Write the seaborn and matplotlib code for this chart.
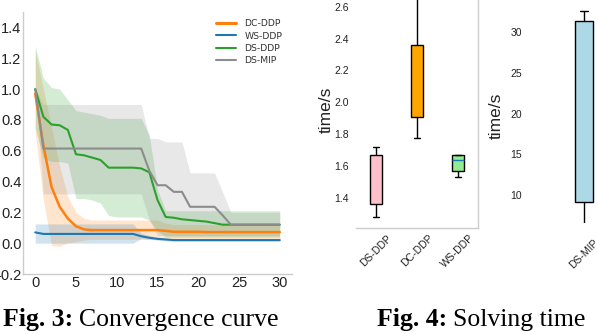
import numpy as np
import pandas as pd
import matplotlib
matplotlib.use("Agg")
import matplotlib.pyplot as plt
import seaborn as sns

# ---------------- data ----------------
iters = list(range(31))

dc_mean = [0.97, 0.635, 0.365, 0.236, 0.16, 0.11, 0.089, 0.085, 0.085, 0.085, 0.085,
           0.085, 0.085, 0.085, 0.085, 0.085, 0.08, 0.074, 0.074, 0.074, 0.074,
           0.072, 0.072, 0.072, 0.072, 0.072, 0.072, 0.072, 0.072, 0.072, 0.072]
dc_lo = [0.72, 0.28, -0.015, -0.02, 0.0, 0.01, 0.02, 0.025, 0.025, 0.025, 0.025,
         0.025, 0.025, 0.025, 0.025, 0.03, 0.03, 0.03, 0.03, 0.03, 0.03,
         0.03, 0.03, 0.03, 0.03, 0.03, 0.03, 0.03, 0.03, 0.03, 0.03]
dc_hi = [1.25, 1.0, 0.75, 0.5, 0.3, 0.2, 0.16, 0.15, 0.15, 0.15, 0.15,
         0.15, 0.15, 0.15, 0.15, 0.15, 0.13, 0.12, 0.12, 0.12, 0.12,
         0.12, 0.12, 0.12, 0.12, 0.12, 0.12, 0.12, 0.12, 0.12, 0.12]

ws_mean = [0.07] + [0.06] * 12 + [0.045, 0.035, 0.028, 0.024] + [0.02] * 14
ws_lo = [0.0] * 13 + [0.03, 0.025, 0.02, 0.015] + [0.012] * 14
ws_hi = [0.125] * 13 + [0.065, 0.05, 0.038, 0.032] + [0.028] * 14

ds_mean = [1.0, 0.82, 0.77, 0.765, 0.735, 0.577, 0.57, 0.555, 0.54, 0.49, 0.49,
           0.49, 0.49, 0.485, 0.46, 0.28, 0.17, 0.165, 0.155, 0.15, 0.145,
           0.14, 0.13] + [0.12] * 8
ds_lo = [0.75, 0.55, 0.53, 0.53, 0.52, 0.29, 0.29, 0.28, 0.26, 0.18, 0.17,
         0.17, 0.17, 0.17, 0.15, 0.08] + [0.04] * 15
ds_hi = [1.28, 1.07, 1.01, 1.0, 0.93, 0.86, 0.85, 0.84, 0.83, 0.81, 0.81,
         0.81, 0.81, 0.81, 0.7, 0.35] + [0.21] * 15

mip_mean = [1.0] + [0.614] * 13 + [0.47, 0.376, 0.376, 0.333, 0.333, 0.236,
                                   0.236, 0.236, 0.236, 0.18] + [0.12] * 7
mip_lo = [1.0] + [0.32] * 13 + [0.15] + [0.05] * 16
mip_hi = [1.0] + [0.9] * 13 + [0.68, 0.68, 0.657, 0.657, 0.657, 0.456,
                               0.456, 0.456, 0.456, 0.33] + [0.2] * 7

# box plot values: [whisker low, q1, median, q3, whisker high]
box_methods = ["DS-DDP", "DC-DDP", "WS-DDP"]
ds_ddp_time = [1.281, 1.36, 1.52, 1.671, 1.723]
dc_ddp_time = [1.776, 1.911, 2.13, 2.36, 2.72]
ws_ddp_time = [1.531, 1.567, 1.638, 1.671, 1.671]
mip_method = ["DS-MIP"]
ds_mip_time = [5.5, 9.18, 20.0, 31.4, 32.64]

y1_ticks = [-0.2, 0.0, 0.2, 0.4, 0.6, 0.8, 1.0, 1.2, 1.4]
x1_ticks = [0, 5, 10, 15, 20, 25, 30]
y2_ticks = [1.4, 1.6, 1.8, 2.0, 2.2, 2.4, 2.6]
y3_ticks = [10, 15, 20, 25, 30]

# ---------------- style ----------------
sns.set_theme(style="white")
plt.rcParams["font.family"] = ["Liberation Sans", "DejaVu Sans"]

W, H = 598, 334
fig = plt.figure(figsize=(W / 100, H / 100), dpi=100)


def px_axes(l, t, r, b):
    return fig.add_axes([l / W, 1 - b / H, (r - l) / W, (b - t) / H])


# ---------------- Fig 3: convergence ----------------
ax1 = px_axes(23, 12, 292, 274)
series = [
    ("DC-DDP", dc_mean, dc_lo, dc_hi, "#ff7f0e", 1.8),
    ("WS-DDP", ws_mean, ws_lo, ws_hi, "#1f77b4", 1.5),
    ("DS-DDP", ds_mean, ds_lo, ds_hi, "#2ca02c", 1.5),
    ("DS-MIP", mip_mean, mip_lo, mip_hi, "#8c8c8c", 1.5),
]
for name, m, lo, hi, c, lw in series:
    ax1.fill_between(iters, lo, hi, color=c, alpha=0.2, lw=0)
for name, m, lo, hi, c, lw in series:
    sns.lineplot(x=iters, y=m, ax=ax1, color=c, lw=lw, label=name)

ax1.set_xlim(-1.5, 31.5)
ax1.set_ylim(-0.2, 1.5)
ax1.set_xticks(x1_ticks)
ax1.set_yticks(y1_ticks)
ax1.set_yticklabels([f"{v:.1f}" for v in y1_ticks])
ax1.tick_params(axis="both", labelsize=10.5, length=0, colors="#222222")
ax1.tick_params(axis="y", pad=1)
ax1.tick_params(axis="x", pad=1.5)
for s in ["top", "right"]:
    ax1.spines[s].set_visible(False)
for s in ["left", "bottom"]:
    ax1.spines[s].set_color("#cccccc")
    ax1.spines[s].set_linewidth(1)
leg = ax1.legend(loc="upper left", bbox_to_anchor=(0.717, 0.972), frameon=False,
                 fontsize=6.7, handlelength=2.15, handletextpad=0.9,
                 labelspacing=0.35, borderpad=0, borderaxespad=0,
                 prop={"family": "DejaVu Sans", "size": 6.7})
for t in leg.get_texts():
    t.set_color("#333333")
leg.get_lines()[0].set_linewidth(2.2)

# ---------------- Fig 4: solving time ----------------
pal = {"DS-DDP": "pink", "DC-DDP": "orange", "WS-DDP": "lightgreen", "DS-MIP": "lightblue"}

df2 = pd.DataFrame({
    "method": sum([[m] * 5 for m in box_methods], []),
    "time": ds_ddp_time + dc_ddp_time + ws_ddp_time,
})
ax2 = px_axes(356, 0, 478, 228)
sns.boxplot(data=df2, x="method", y="time", hue="method", order=box_methods,
            palette=pal, width=0.3, linecolor="black", linewidth=1,
            whis=1.5, saturation=1, ax=ax2, legend=False)
ax2.set_xlim(-0.5, 2.5)
ax2.set_ylim(1.212, 2.642)
ax2.set_yticks(y2_ticks)
ax2.set_yticklabels([f"{v:.1f}" for v in y2_ticks])
ax2.set_xlabel("")
ax2.set_ylabel("")
ax2.tick_params(axis="both", labelsize=7.5, length=0, colors="#222222")
ax2.tick_params(axis="y", pad=5)
ax2.tick_params(axis="x", pad=3.6)
plt.setp(ax2.get_xticklabels(), rotation=45, ha="center")
for s in ["top", "left"]:
    ax2.spines[s].set_visible(False)
for s in ["right", "bottom"]:
    ax2.spines[s].set_color("#cccccc")
    ax2.spines[s].set_linewidth(1)

df3 = pd.DataFrame({"method": mip_method * 5, "time": ds_mip_time})
ax3 = px_axes(529, 0, 639, 223)
sns.boxplot(data=df3, x="method", y="time", hue="method", palette=pal,
            width=0.16, linecolor="black", linewidth=1, whis=1.5,
            saturation=1, ax=ax3, legend=False)
ax3.set_xlim(-0.5, 0.5)
ax3.set_ylim(6.56, 33.96)
ax3.set_yticks(y3_ticks)
ax3.set_xlabel("")
ax3.set_ylabel("")
ax3.tick_params(axis="both", labelsize=7.5, length=0, colors="#222222")
ax3.tick_params(axis="y", pad=5)
ax3.tick_params(axis="x", pad=10.5)
plt.setp(ax3.get_xticklabels(), rotation=45, ha="center")
for s in ax3.spines.values():
    s.set_visible(False)

# medians: only WS-DDP shows a (blue) median line
for ax in (ax2, ax3):
    for cont in ax.containers:
        meds = getattr(cont, "medians", None)
        if meds is None:
            continue
        for ln in meds:
            yv = np.asarray(ln.get_ydata(), dtype=float)
            if np.allclose(yv, ws_ddp_time[2]):
                ln.set_color("#1f77b4")
                ln.set_linewidth(1)
            else:
                ln.set_visible(False)

fig.text(326 / W, 1 - 110 / H, "time/s", rotation=90, ha="center", va="center",
         fontsize=12.5, color="#222222")
fig.text(496.5 / W, 1 - 116 / H, "time/s", rotation=90, ha="center", va="center",
         fontsize=12.5, color="#222222")

# ---------------- captions ----------------
serif = ["Liberation Serif", "DejaVu Serif"]
cap_size = 18.5
renderer = fig.canvas.get_renderer()


def caption(x_px, y_px, bold, rest):
    t1 = fig.text(x_px / W, 1 - y_px / H, bold, family=serif, weight="bold",
                  fontsize=cap_size, ha="left", va="baseline", color="black")
    bb = t1.get_window_extent(renderer=renderer)
    fig.text((bb.x1 + 6) / W, 1 - y_px / H, rest, family=serif,
             fontsize=cap_size, ha="left", va="baseline", color="black")


caption(3, 326, "Fig. 3:", "Convergence curve")
caption(377, 326, "Fig. 4:", "Solving time")

fig.savefig("out.png", dpi=100)
